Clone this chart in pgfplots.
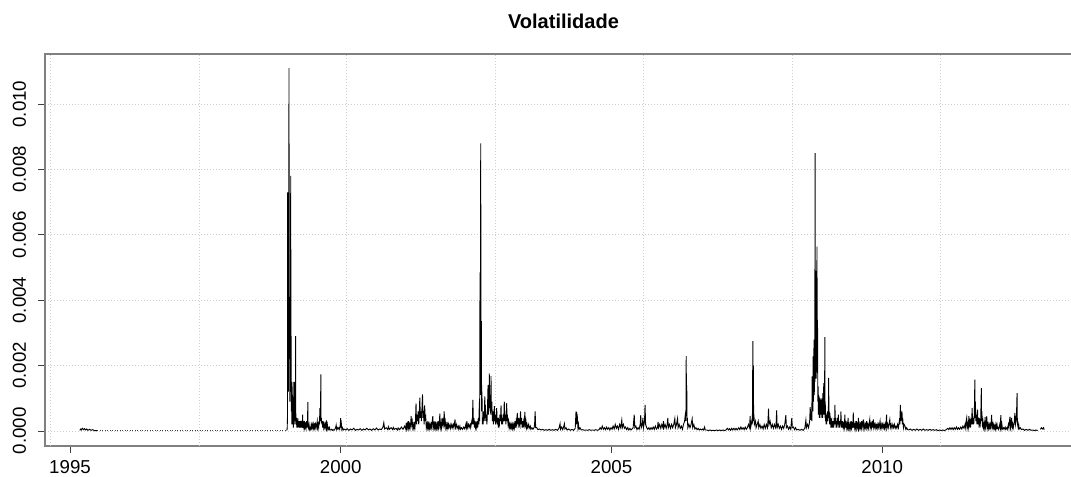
\documentclass[border=0pt]{standalone}
\usepackage{pgfplots}
\pgfplotsset{compat=1.18}
\usepackage{fontspec}
\setmainfont{Liberation Sans}
\definecolor{framegray}{RGB}{128,128,128}
\definecolor{gridgray}{RGB}{205,205,205}
\newcommand\tickfont{\fontsize{18.7bp}{22bp}\selectfont}
\newcommand\titlefont{\fontsize{20bp}{24bp}\selectfont\bfseries}
\begin{document}
\begin{tikzpicture}
\useasboundingbox (-45bp,-31bp) rectangle (1026bp,446bp);
\begin{axis}[
  at={(0,0)}, anchor=south west,
  scale only axis, width=1037bp, height=392bp,
  xmin=1994.538, xmax=2013.689, ymin=-0.00046, ymax=0.01153,
  axis line style={draw=framegray, line width=1.4bp},
  xtick={1995,2000,2005,2010},
  xticklabels={1995,2000,2005,2010},
  ytick={0,0.002,0.004,0.006,0.008,0.010},
  yticklabels={0.000,0.002,0.004,0.006,0.008,0.010},
  scaled y ticks=false,
  tick align=outside, major tick length=7bp,
  xtick pos=bottom, ytick pos=left,
  tick style={black!75, line width=0.8bp},
  ticklabel style={font=\tickfont},
  xticklabel style={anchor=north, yshift=-4bp},
  yticklabel style={rotate=90, anchor=south, yshift=8.5bp},
  ymajorgrids=true,
  major grid style={gridgray, line width=0.8bp, dash pattern=on 1bp off 2bp},
  extra x ticks={1994.63,1997.388,2000.110,2002.849,2005.587,2008.339,2011.080},
  extra x tick labels={},
  extra x tick style={xmajorgrids=true, major tick length=0pt},
  title={Volatilidade},
  title style={font=\titlefont, at={(0.5,1)}, anchor=base, yshift=19.5bp},
]
\addplot[black!75, line width=0.8bp, dash pattern=on 1bp off 1.5bp] coordinates {(1995.5,0.00001)(1999.0,0.00001)};
\addplot[black, line width=0.9bp] coordinates {
(1995.18,0.00002)(1995.20,0.00006)(1995.21,0.00003)(1995.23,0.00008)(1995.25,0.00004)(1995.27,0.00007)(1995.29,0.00003)(1995.31,0.00006)(1995.33,0.00002)(1995.36,0.00005)(1995.39,0.00002)(1995.42,0.00004)(1995.45,0.00001)(1995.50,0.00001)
};
\addplot[black, line width=0.9bp] coordinates {
(1999.000,0.00002)(1999.010,0.00005)(1999.016,0.0004)(1999.020,0.0073)(1999.024,0.0029)(1999.028,0.0041)(1999.032,0.0012)(1999.036,0.0031)(1999.040,0.0050)(1999.044,0.0111)(1999.048,0.0029)(1999.052,0.0022)(1999.056,0.0041)(1999.060,0.0009)(1999.064,0.0029)(1999.068,0.0012)(1999.072,0.0025)(1999.076,0.0078)(1999.080,0.0016)(1999.084,0.0029)(1999.088,0.0006)(1999.092,0.0013)(1999.096,0.0002)(1999.100,0.0015)(1999.104,0.0004)(1999.108,0.0011)(1999.112,0.0002)(1999.118,0.0006)(1999.124,0.0001)(1999.130,0.0009)(1999.134,0.0015)(1999.138,0.0003)(1999.142,0.0010)(1999.146,0.0015)(1999.150,0.0002)(1999.154,0.0006)(1999.158,0.0003)(1999.162,0.0005)(1999.166,0.0029)(1999.170,0.0004)(1999.176,0.0002)(1999.182,0.0004)(1999.188,0.0001)(1999.194,0.0003)(1999.200,0.0001)(1999.206,0.0004)(1999.212,0.0002)(1999.218,0.0003)(1999.224,0.0001)(1999.230,0.0003)(1999.236,0.0001)(1999.244,0.0002)(1999.250,0.0003)(1999.256,0.0001)(1999.262,0.0002)(1999.270,0.0001)(1999.278,0.0003)(1999.284,0.0001)(1999.290,0.0002)(1999.296,0.0005)(1999.300,0.0001)
(1999.306,0.0001)(1999.312,0.0002)(1999.320,0.0001)(1999.330,0.0003)(1999.340,0.0001)(1999.350,0.0002)(1999.360,0.0001)(1999.370,0.0003)(1999.380,0.0001)(1999.386,0.0002)(1999.392,0.00088)(1999.396,0.0002)(1999.404,0.0001)(1999.414,0.0002)(1999.424,0.00005)(1999.434,0.0001)(1999.444,0.00005)(1999.454,0.0002)(1999.464,0.0001)(1999.474,0.0002)(1999.484,0.0001)(1999.494,0.0002)(1999.504,0.00005)(1999.514,0.0001)(1999.520,0.00025)(1999.526,0.0001)(1999.536,0.0002)(1999.546,0.0001)(1999.556,0.0002)(1999.566,0.0003)(1999.572,0.0001)(1999.582,0.0002)(1999.592,0.0001)(1999.600,0.0003)(1999.608,0.0002)(1999.614,0.0007)(1999.620,0.0003)(1999.626,0.0004)(1999.632,0.00173)(1999.636,0.0003)(1999.642,0.0004)(1999.650,0.0002)(1999.658,0.0003)(1999.666,0.0001)(1999.676,0.0003)(1999.686,0.0001)(1999.696,0.0002)(1999.706,0.0001)(1999.716,0.0002)(1999.726,0.0001)(1999.736,0.00032)(1999.742,0.0001)(1999.752,0.0002)(1999.762,0.00005)(1999.772,0.0001)(1999.782,0.00005)(1999.792,0.0001)(1999.800,0.00003)(1999.815,0.00003)(1999.830,0.00005)(1999.845,0.00002)(1999.860,0.00004)
(1999.875,0.00002)(1999.890,0.00005)(1999.905,0.0001)(1999.915,0.00018)(1999.925,0.00005)(1999.935,0.0001)(1999.950,0.00005)(1999.965,0.0001)(1999.980,0.00005)(1999.992,0.0002)(1999.998,0.00039)(2000.004,0.0001)(2000.012,0.0002)(2000.020,0.00005)(2000.030,0.0001)(2000.045,0.00003)
(2000.06,0.00006)(2000.09,0.00003)(2000.12,0.00007)(2000.15,0.00002)(2000.18,0.00006)(2000.21,0.00003)(2000.24,0.00008)(2000.27,0.00002)(2000.30,0.00005)(2000.33,0.00003)(2000.36,0.00007)(2000.39,0.00002)(2000.42,0.00006)(2000.45,0.00003)(2000.48,0.00008)(2000.51,0.00003)(2000.54,0.00006)(2000.57,0.00002)(2000.60,0.00007)(2000.63,0.00003)(2000.66,0.00009)(2000.69,0.00003)(2000.72,0.00006)(2000.75,0.00004)(2000.78,0.00012)(2000.795,0.00025)(2000.81,0.00006)(2000.84,0.0001)(2000.87,0.00004)(2000.88,0.00013)(2000.90,0.00005)(2000.93,0.0001)(2000.96,0.00004)(2000.97,0.00011)(2000.99,0.00005)(2001.02,0.00008)(2001.05,0.00003)(2001.06,0.00009)(2001.09,0.00004)(2001.12,0.00012)(2001.15,0.00005)(2001.18,0.00015)
(2001.20,0.00006)(2001.21,0.00025)(2001.22,0.00008)(2001.23,0.0002)(2001.24,0.0001)(2001.25,0.0003)(2001.26,0.0001)(2001.27,0.0002)(2001.28,0.00008)(2001.29,0.0002)(2001.30,0.00045)(2001.31,0.0002)(2001.32,0.0003)(2001.33,0.0001)(2001.34,0.0002)(2001.35,0.00008)(2001.36,0.0002)(2001.37,0.0001)(2001.38,0.0003)(2001.39,0.00084)(2001.40,0.0002)(2001.41,0.0005)(2001.42,0.0003)(2001.43,0.0006)(2001.44,0.0002)(2001.45,0.0005)(2001.46,0.00102)(2001.47,0.0004)(2001.48,0.0006)(2001.49,0.0003)(2001.50,0.0007)(2001.51,0.00112)(2001.52,0.0004)(2001.53,0.0005)(2001.54,0.0002)(2001.55,0.00078)(2001.56,0.0003)(2001.57,0.0004)(2001.58,0.0001)(2001.59,0.0002)(2001.60,0.0001)(2001.61,0.0003)(2001.62,0.0001)(2001.63,0.0002)(2001.64,0.00008)(2001.65,0.0002)(2001.66,0.0001)(2001.67,0.0002)(2001.68,0.0001)(2001.69,0.0003)(2001.70,0.00045)(2001.71,0.0001)(2001.72,0.0002)(2001.73,0.0001)(2001.74,0.0003)(2001.75,0.0001)(2001.76,0.0002)(2001.77,0.00008)(2001.78,0.0002)(2001.79,0.0001)(2001.80,0.0003)(2001.81,0.0001)(2001.82,0.0002)(2001.83,0.00053)(2001.84,0.0001)(2001.85,0.0002)(2001.86,0.0001)(2001.87,0.0004)(2001.88,0.0002)(2001.89,0.0003)(2001.90,0.0002)(2001.91,0.0006)(2001.92,0.0002)(2001.93,0.0003)(2001.94,0.0001)(2001.95,0.0002)(2001.96,0.00008)(2001.97,0.0002)(2001.98,0.0001)(2001.99,0.0002)
(2002.00,0.0001)(2002.02,0.0002)(2002.03,0.00008)(2002.05,0.0002)(2002.06,0.0001)(2002.08,0.0002)(2002.09,0.0001)(2002.11,0.00035)(2002.12,0.0001)(2002.14,0.0002)(2002.15,0.00008)(2002.17,0.00015)(2002.18,0.00005)(2002.20,0.00015)(2002.21,0.00005)(2002.23,0.0001)(2002.25,0.00005)(2002.27,0.00012)(2002.29,0.00006)(2002.31,0.0002)(2002.32,0.0001)(2002.33,0.0003)(2002.34,0.0001)(2002.36,0.0002)(2002.37,0.0001)(2002.39,0.0002)(2002.40,0.0001)(2002.42,0.0003)(2002.43,0.0002)(2002.44,0.00095)(2002.45,0.0002)(2002.46,0.0004)(2002.47,0.0001)(2002.48,0.0003)(2002.49,0.0001)(2002.50,0.0002)(2002.51,0.0001)(2002.52,0.0003)(2002.53,0.0001)(2002.54,0.0004)(2002.55,0.0002)(2002.56,0.0009)(2002.565,0.0003)(2002.572,0.00485)(2002.578,0.0011)(2002.585,0.0088)(2002.590,0.0020)(2002.596,0.00336)(2002.602,0.0006)(2002.608,0.0012)(2002.615,0.0002)(2002.62,0.0004)(2002.63,0.0002)(2002.64,0.0006)(2002.65,0.0003)(2002.66,0.00106)(2002.665,0.0004)(2002.67,0.0008)(2002.68,0.0003)(2002.69,0.0005)(2002.70,0.0002)(2002.71,0.0007)(2002.72,0.0014)(2002.725,0.0005)(2002.73,0.0009)(2002.738,0.0006)(2002.743,0.00176)(2002.75,0.0007)(2002.76,0.0011)(2002.77,0.0005)(2002.775,0.00168)(2002.78,0.0006)(2002.79,0.0009)(2002.80,0.0003)(2002.81,0.0006)(2002.82,0.0002)(2002.83,0.0005)(2002.836,0.00076)(2002.84,0.0003)(2002.85,0.0005)(2002.86,0.0002)(2002.87,0.0004)(2002.88,0.0007)(2002.89,0.0002)(2002.90,0.0004)(2002.91,0.0001)(2002.92,0.0003)(2002.93,0.0002)(2002.94,0.0005)(2002.95,0.0003)(2002.96,0.00078)(2002.97,0.0002)(2002.98,0.0004)(2002.99,0.0002)(2003.00,0.0005)(2003.01,0.0003)(2003.02,0.0009)(2003.03,0.0003)(2003.04,0.0005)(2003.05,0.0002)(2003.065,0.00085)(2003.07,0.0003)(2003.08,0.0004)(2003.09,0.0002)(2003.10,0.0003)(2003.11,0.0001)(2003.12,0.0002)(2003.13,0.0001)(2003.14,0.0002)(2003.15,0.0001)(2003.16,0.0002)(2003.17,0.00008)(2003.18,0.0002)(2003.19,0.0001)(2003.20,0.0002)(2003.21,0.0001)(2003.22,0.0003)(2003.23,0.0001)(2003.24,0.0003)(2003.25,0.0002)(2003.26,0.00055)(2003.27,0.0002)(2003.28,0.0004)(2003.29,0.0001)(2003.30,0.0003)(2003.31,0.0002)(2003.32,0.0006)(2003.33,0.0002)(2003.34,0.0004)(2003.35,0.0001)(2003.36,0.0003)(2003.37,0.0001)(2003.38,0.0003)(2003.39,0.0002)(2003.40,0.00058)(2003.41,0.0002)(2003.42,0.0003)(2003.43,0.0001)(2003.44,0.0002)(2003.45,0.0001)(2003.47,0.0002)(2003.48,0.00008)(2003.50,0.00015)(2003.51,0.00005)(2003.53,0.0001)(2003.55,0.00005)(2003.57,0.0001)(2003.58,0.0002)(2003.59,0.0006)(2003.60,0.0001)(2003.62,0.0001)(2003.64,0.00004)(2003.67,0.00006)(2003.70,0.00003)
(2003.73,0.00005)(2003.76,0.00002)(2003.79,0.00004)(2003.82,0.00002)(2003.85,0.00005)(2003.88,0.00002)(2003.91,0.00004)(2003.94,0.00002)(2003.97,0.00005)(2004.00,0.00002)(2004.03,0.00008)(2004.05,0.00022)(2004.06,0.00005)(2004.08,0.00012)(2004.10,0.00004)(2004.12,0.00015)(2004.13,0.00022)(2004.14,0.00006)(2004.16,0.0001)(2004.18,0.00003)(2004.21,0.00006)(2004.24,0.00002)(2004.27,0.00005)(2004.30,0.00002)(2004.33,0.00008)(2004.345,0.0006)(2004.35,0.0002)(2004.355,0.00058)(2004.36,0.0003)(2004.37,0.0004)(2004.38,0.0001)(2004.39,0.0002)(2004.40,0.00005)(2004.42,0.0001)(2004.44,0.00003)(2004.47,0.00004)(2004.50,0.00002)(2004.53,0.00003)(2004.56,0.00002)(2004.59,0.00004)(2004.62,0.00002)(2004.65,0.00003)(2004.68,0.00002)(2004.71,0.00004)(2004.74,0.00002)(2004.77,0.00004)
(2004.79,0.0001)(2004.81,0.00005)(2004.83,0.00015)(2004.85,0.00005)(2004.87,0.0001)(2004.89,0.00004)(2004.91,0.00012)(2004.93,0.00005)(2004.95,0.0001)(2004.97,0.00003)(2004.99,0.0001)(2005.01,0.00005)(2005.03,0.00015)(2005.05,0.00006)(2005.07,0.0002)(2005.09,0.00008)(2005.11,0.00015)(2005.13,0.00005)(2005.15,0.0002)(2005.17,0.0001)(2005.19,0.00033)(2005.20,0.0001)(2005.22,0.0002)(2005.24,0.00008)(2005.26,0.00012)(2005.28,0.00004)(2005.30,0.0001)(2005.32,0.00003)(2005.34,0.00008)(2005.36,0.00003)(2005.38,0.00006)(2005.40,0.0001)(2005.42,0.0005)(2005.43,0.0001)(2005.45,0.00015)(2005.47,0.00004)(2005.49,0.0001)(2005.51,0.00005)(2005.53,0.0002)(2005.54,0.00048)(2005.55,0.0001)(2005.57,0.0002)(2005.58,0.0004)(2005.59,0.0001)(2005.61,0.0003)(2005.62,0.0008)(2005.63,0.0002)(2005.65,0.0001)(2005.67,0.00005)(2005.69,0.0001)(2005.71,0.00004)(2005.73,0.0001)(2005.75,0.00005)(2005.77,0.00012)(2005.79,0.00005)(2005.81,0.00015)(2005.83,0.00006)(2005.85,0.0001)(2005.86,0.00028)(2005.87,0.0001)(2005.89,0.0002)(2005.91,0.00008)(2005.93,0.0002)(2005.95,0.0001)(2005.96,0.0003)(2005.97,0.0001)(2005.99,0.0002)(2006.01,0.00008)(2006.03,0.0002)(2006.04,0.0004)(2006.05,0.0001)(2006.07,0.0002)(2006.09,0.00008)(2006.11,0.0002)(2006.13,0.0001)(2006.15,0.0002)(2006.17,0.00038)(2006.18,0.0001)(2006.20,0.0002)(2006.22,0.00038)(2006.23,0.0001)(2006.25,0.0002)(2006.27,0.00008)(2006.29,0.00015)(2006.31,0.00005)(2006.33,0.0002)(2006.35,0.0003)(2006.36,0.00045)(2006.37,0.0003)(2006.376,0.0007)(2006.38,0.00229)(2006.385,0.0006)(2006.39,0.0014)(2006.395,0.0003)(2006.40,0.0004)(2006.41,0.0001)(2006.43,0.0002)(2006.45,0.0001)(2006.47,0.0002)(2006.49,0.00037)(2006.50,0.0001)(2006.52,0.0002)(2006.54,0.00006)(2006.56,0.0001)(2006.58,0.00004)(2006.60,0.00008)(2006.62,0.00003)(2006.64,0.00006)(2006.66,0.00003)(2006.68,0.00006)(2006.70,0.00003)(2006.72,0.00012)(2006.73,0.00003)
(2006.76,0.00003)(2006.79,0.00001)(2006.82,0.00003)(2006.85,0.00001)(2006.88,0.00002)(2006.91,0.00001)(2006.94,0.00003)(2006.97,0.00001)(2007.00,0.00003)(2007.03,0.00001)(2007.06,0.00003)(2007.09,0.00001)(2007.12,0.00004)(2007.14,0.00008)(2007.16,0.00003)(2007.18,0.00007)(2007.20,0.00002)(2007.22,0.00008)(2007.24,0.00003)(2007.26,0.00008)(2007.28,0.00003)(2007.30,0.00008)(2007.32,0.00003)(2007.35,0.0001)(2007.37,0.00004)(2007.39,0.00012)(2007.41,0.00005)(2007.43,0.0001)(2007.45,0.00004)(2007.47,0.00012)(2007.49,0.00005)(2007.51,0.0001)(2007.53,0.0002)(2007.55,0.0001)(2007.56,0.00045)(2007.57,0.0001)(2007.58,0.0002)(2007.59,0.0003)(2007.60,0.0002)(2007.605,0.0007)(2007.61,0.00275)(2007.615,0.0006)(2007.62,0.002)(2007.625,0.0003)(2007.63,0.0005)(2007.64,0.0002)(2007.66,0.0003)(2007.67,0.0001)(2007.69,0.0002)(2007.71,0.0003)(2007.72,0.0001)(2007.74,0.0002)(2007.76,0.00008)(2007.78,0.00015)(2007.80,0.00006)(2007.82,0.0002)(2007.84,0.00008)(2007.86,0.0002)(2007.88,0.0001)(2007.89,0.0003)(2007.90,0.00068)(2007.91,0.0002)(2007.93,0.0003)(2007.95,0.0001)(2007.97,0.0002)(2007.99,0.00008)(2008.01,0.0002)(2008.03,0.0001)(2008.04,0.0002)(2008.05,0.00063)(2008.06,0.0001)(2008.08,0.0002)(2008.10,0.00008)(2008.12,0.00015)(2008.14,0.00005)(2008.16,0.00015)(2008.18,0.00008)(2008.20,0.0002)(2008.22,0.00048)(2008.23,0.0001)(2008.25,0.00015)(2008.27,0.00005)(2008.29,0.00012)(2008.31,0.00005)(2008.33,0.0004)(2008.34,0.0001)(2008.36,0.00012)(2008.38,0.00004)(2008.40,0.0001)(2008.42,0.00003)(2008.45,0.00005)(2008.48,0.00002)(2008.51,0.00005)(2008.54,0.00002)(2008.57,0.00008)(2008.59,0.00033)(2008.60,0.0001)(2008.62,0.0002)(2008.64,0.0001)(2008.66,0.0003)(2008.67,0.00073)(2008.68,0.00034)
(2008.690,0.0006)(2008.700,0.0003)(2008.705,0.00167)(2008.71,0.0007)(2008.715,0.0012)(2008.72,0.0006)(2008.725,0.00228)(2008.73,0.0009)(2008.735,0.0015)(2008.74,0.00279)(2008.745,0.0011)(2008.750,0.0021)(2008.755,0.0015)(2008.760,0.0085)(2008.765,0.0024)(2008.770,0.0036)(2008.775,0.00345)(2008.780,0.0016)(2008.785,0.0049)(2008.790,0.0021)(2008.795,0.00564)(2008.800,0.0018)(2008.805,0.0034)(2008.810,0.0009)(2008.815,0.00136)(2008.820,0.0005)(2008.825,0.0011)(2008.830,0.0006)(2008.835,0.00105)(2008.840,0.0004)(2008.845,0.0010)(2008.850,0.0006)(2008.855,0.0010)(2008.860,0.0005)(2008.865,0.0009)(2008.870,0.0004)(2008.875,0.00095)(2008.880,0.0005)(2008.885,0.0010)(2008.890,0.0006)(2008.895,0.0009)(2008.900,0.0004)(2008.905,0.00116)(2008.910,0.0005)(2008.915,0.0009)(2008.920,0.00146)(2008.925,0.0005)(2008.930,0.0012)(2008.935,0.0008)(2008.940,0.00287)(2008.945,0.0004)(2008.950,0.0008)(2008.955,0.0003)(2008.960,0.00055)(2008.965,0.0002)(2008.970,0.0004)(2008.975,0.0002)(2008.980,0.0005)(2008.985,0.0003)(2008.990,0.0006)(2008.995,0.0003)(2009.000,0.0005)(2009.005,0.0004)(2009.011,0.00162)(2009.016,0.0004)(2009.022,0.0006)(2009.028,0.0002)(2009.035,0.00055)(2009.040,0.0002)(2009.046,0.0004)(2009.052,0.0001)(2009.058,0.0003)(2009.066,0.00034)(2009.072,0.0001)(2009.080,0.0003)(2009.088,0.0001)(2009.096,0.0003)(2009.104,0.0001)(2009.112,0.0004)(2009.120,0.0002)(2009.127,0.0008)(2009.133,0.0002)(2009.140,0.0004)(2009.148,0.0001)(2009.156,0.0003)(2009.164,0.0001)(2009.172,0.0004)(2009.180,0.0002)(2009.190,0.0005)(2009.198,0.0001)(2009.206,0.0003)(2009.214,0.0001)(2009.222,0.0003)(2009.230,0.0002)(2009.238,0.0006)(2009.244,0.0001)(2009.252,0.0003)(2009.260,0.0001)(2009.270,0.0003)(2009.280,0.0001)(2009.290,0.0002)(2009.300,0.0001)(2009.310,0.0005)(2009.318,0.0001)(2009.328,0.0003)(2009.338,0.0001)(2009.348,0.0002)(2009.358,0.0001)(2009.370,0.0004)(2009.378,0.0001)(2009.388,0.0002)(2009.398,0.00008)(2009.408,0.0002)(2009.418,0.00008)(2009.428,0.0003)(2009.438,0.0001)(2009.448,0.0002)(2009.458,0.0001)(2009.465,0.00057)(2009.472,0.0001)(2009.482,0.0002)(2009.492,0.00008)(2009.502,0.0002)(2009.512,0.00008)(2009.522,0.0003)(2009.532,0.0001)(2009.542,0.0002)(2009.552,0.0001)(2009.560,0.0004)(2009.568,0.0001)(2009.578,0.0002)(2009.588,0.00008)(2009.598,0.0002)(2009.608,0.0001)(2009.618,0.0003)(2009.628,0.0001)(2009.638,0.0002)(2009.650,0.00035)(2009.658,0.0001)(2009.668,0.0002)(2009.678,0.00008)(2009.690,0.0002)(2009.700,0.0001)(2009.712,0.0003)(2009.722,0.0001)(2009.734,0.0002)(2009.744,0.00008)(2009.756,0.0002)(2009.770,0.00035)(2009.778,0.0001)(2009.790,0.0002)(2009.800,0.0001)(2009.812,0.0003)(2009.822,0.0001)(2009.835,0.00035)(2009.845,0.0001)(2009.858,0.0002)(2009.870,0.00008)(2009.882,0.0002)(2009.894,0.0001)(2009.906,0.0002)(2009.918,0.00008)(2009.930,0.0002)(2009.942,0.0001)(2009.960,0.0003)(2009.970,0.0001)(2009.982,0.0002)(2009.994,0.00008)(2010.006,0.0002)(2010.018,0.0001)(2010.030,0.0002)(2010.042,0.00008)(2010.054,0.0002)(2010.066,0.0001)(2010.080,0.0005)(2010.088,0.0001)(2010.100,0.0002)(2010.112,0.0001)(2010.124,0.0002)(2010.140,0.00035)(2010.150,0.0001)(2010.165,0.0002)(2010.180,0.00008)(2010.195,0.0002)(2010.210,0.0001)(2010.225,0.0002)(2010.240,0.00008)(2010.255,0.00015)(2010.270,0.00008)(2010.285,0.0002)(2010.300,0.0001)(2010.315,0.0003)(2010.325,0.0002)(2010.335,0.0008)(2010.345,0.0003)(2010.355,0.0004)(2010.365,0.0006)(2010.372,0.0002)(2010.382,0.0003)(2010.392,0.0001)(2010.404,0.0002)(2010.420,0.00015)(2010.436,0.00005)(2010.452,0.0001)(2010.470,0.00004)
(2010.49,0.00003)(2010.52,0.00006)(2010.55,0.00002)(2010.58,0.00005)(2010.61,0.00002)(2010.64,0.00006)(2010.67,0.00002)(2010.70,0.00005)(2010.73,0.00002)(2010.76,0.00006)(2010.79,0.00002)(2010.82,0.00004)(2010.85,0.00002)(2010.88,0.00005)(2010.91,0.00002)(2010.94,0.00004)(2010.97,0.00002)(2011.00,0.00004)(2011.03,0.00001)(2011.06,0.00003)(2011.09,0.00001)(2011.12,0.00003)(2011.15,0.00001)(2011.18,0.00004)(2011.21,0.00008)(2011.23,0.00004)(2011.25,0.0001)(2011.27,0.00005)(2011.29,0.0001)(2011.31,0.00004)(2011.33,0.0001)(2011.35,0.00005)(2011.37,0.00012)(2011.39,0.00005)(2011.41,0.0001)(2011.43,0.00005)(2011.45,0.00012)(2011.47,0.00006)(2011.49,0.00015)(2011.51,0.00008)(2011.53,0.0002)
(2011.54,0.0001)(2011.55,0.0003)(2011.56,0.0004)(2011.57,0.0001)(2011.58,0.0002)(2011.59,0.0001)(2011.60,0.00045)(2011.61,0.0002)(2011.62,0.0003)(2011.63,0.0001)(2011.64,0.0003)(2011.65,0.0002)(2011.66,0.0007)(2011.67,0.0002)(2011.68,0.0004)(2011.69,0.0002)(2011.70,0.0005)(2011.705,0.0009)(2011.71,0.00157)(2011.715,0.0004)(2011.72,0.0009)(2011.73,0.0003)(2011.74,0.0005)(2011.75,0.0002)(2011.76,0.00065)(2011.77,0.0002)(2011.78,0.0004)(2011.79,0.0001)(2011.80,0.0003)(2011.81,0.0002)(2011.82,0.0004)(2011.83,0.00131)(2011.835,0.0003)(2011.84,0.0006)(2011.85,0.0002)(2011.86,0.0003)(2011.87,0.0001)(2011.88,0.0002)(2011.89,0.0001)(2011.90,0.00042)(2011.91,0.0001)(2011.92,0.0002)(2011.93,0.00045)(2011.94,0.0001)(2011.95,0.0002)(2011.96,0.00008)(2011.97,0.0002)(2011.98,0.0001)(2011.99,0.0002)(2012.00,0.0001)(2012.01,0.0002)(2012.02,0.00049)(2012.03,0.0001)(2012.04,0.0002)(2012.05,0.0001)(2012.06,0.0002)(2012.07,0.00008)(2012.08,0.00015)(2012.09,0.00006)(2012.10,0.0002)(2012.11,0.0001)(2012.12,0.0002)(2012.13,0.00008)(2012.14,0.0001)(2012.15,0.00005)(2012.17,0.0002)(2012.18,0.0001)(2012.19,0.00048)(2012.20,0.0001)(2012.21,0.0002)(2012.22,0.00006)(2012.24,0.0001)(2012.25,0.00005)(2012.27,0.00012)(2012.28,0.00005)(2012.30,0.0001)(2012.31,0.00005)(2012.33,0.0002)(2012.34,0.0001)(2012.35,0.0003)(2012.36,0.00044)(2012.37,0.0001)(2012.38,0.0002)(2012.39,0.0004)(2012.40,0.0001)(2012.41,0.0002)(2012.42,0.0001)(2012.43,0.0002)(2012.44,0.0003)(2012.45,0.00055)(2012.46,0.0002)(2012.47,0.0003)(2012.48,0.0005)(2012.49,0.00116)(2012.495,0.0003)(2012.50,0.0002)(2012.51,0.0001)(2012.52,0.0002)(2012.53,0.00006)(2012.55,0.0001)(2012.57,0.00004)(2012.60,0.00006)(2012.63,0.00002)(2012.66,0.00005)(2012.69,0.00002)(2012.72,0.00005)(2012.75,0.00002)(2012.78,0.00003)(2012.81,0.00001)(2012.84,0.00003)(2012.87,0.00001)
};
\addplot[black, line width=0.9bp] coordinates {(2012.92,0.00005)(2012.94,0.0001)(2012.96,0.00006)(2012.98,0.0001)(2012.99,0.00004)};
\end{axis}
\end{tikzpicture}
\end{document}
